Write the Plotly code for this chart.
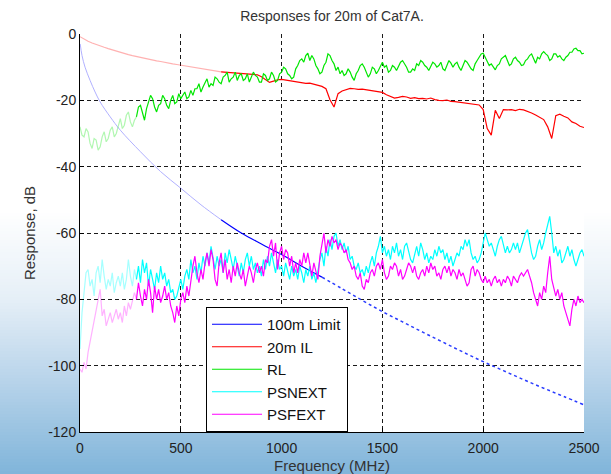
import plotly.graph_objects as go

# frequency grids (MHz)
freq10 = list(range(0, 2501, 10))
freq20 = list(range(0, 2501, 20))

# axis ticks
x_ticks = [0, 500, 1000, 1500, 2000, 2500]
y_ticks = [0, -20, -40, -60, -80, -100, -120]
y_tick_text = ['0', '-20', '-40', '-60', '-80', '-100', '-120']

# 100m limit (smooth curve read at a few points)
limit_freq = [1, 10, 25, 50, 75, 100, 150, 200, 300, 400, 500, 600, 700, 800, 900,
              1000, 1100, 1200, 1300, 1400, 1500, 1600, 1700, 1800, 1900, 2000,
              2100, 2200, 2300, 2400, 2500]
limit_db = [-3.0, -6.5, -10.0, -14.0, -17.5, -20.5, -25.0, -29.0, -35.5, -41.5, -46.5,
            -51.5, -56.0, -60.0, -63.3, -66.5, -70.0, -73.3, -76.8, -80.3, -83.7,
            -86.8, -89.9, -92.9, -95.9, -98.8, -101.5, -104.2, -106.8, -109.3, -111.8]

# 20m insertion loss, every 20 MHz
il_db = [
    -0.8, -1.6, -2.2, -2.7, -3.2, -3.6, -4.0, -4.4, -4.8, -5.2,
    -5.6, -5.9, -6.2, -6.5, -6.8, -7.1, -7.3, -7.6, -7.8, -8.1,
    -8.3, -8.6, -8.8, -9.0, -9.2, -9.4, -9.6, -9.8, -10.0, -10.2,
    -10.4, -10.6, -10.8, -11.0, -11.2, -11.4, -11.5, -11.6, -11.8, -11.9,
    -11.9, -12.0, -12.1, -12.1, -12.3, -12.9, -13.8, -14.6, -14.2, -13.8,
    -13.7, -13.9, -14.2, -14.4, -14.5, -14.6, -14.9, -14.8, -15.1, -15.4,
    -15.8, -16.5, -19.8, -22.0, -18.0, -17.2, -16.8, -16.4, -16.5, -16.7,
    -16.6, -16.8, -17.0, -17.1, -17.3, -17.6, -18.3, -18.9, -19.3, -19.1,
    -18.8, -19.0, -19.4, -19.2, -19.5, -19.4, -19.6, -19.3, -19.8, -20.0,
    -20.1, -19.9, -20.3, -20.4, -20.6, -20.7, -20.9, -21.0, -21.2, -21.4,
    -22.8, -28.5, -30.5, -23.0, -25.5, -22.8, -22.9, -22.8, -23.1, -22.7,
    -22.9, -23.3, -23.8, -24.4, -25.1, -25.8, -28.0, -31.5, -24.6, -24.2,
    -24.8, -25.3, -26.5, -27.0, -27.8, -28.2]

# return loss, every 10 MHz
rl_db = [
    -28.0, -30.5, -31.0, -28.5, -29.5, -33.0, -34.5, -31.5, -32.0, -35.0,
    -34.0, -31.0, -29.5, -32.5, -31.5, -29.0, -28.0, -31.0, -30.0, -27.5,
    -25.5, -28.5, -27.5, -24.5, -23.5, -26.5, -28.0, -26.0, -25.0, -22.0,
    -21.5, -24.0, -26.0, -22.5, -20.5, -18.5, -19.5, -22.0, -23.5, -21.5,
    -21.0, -18.5, -19.5, -21.5, -22.5, -20.0, -18.5, -21.0, -20.5, -18.0,
    -19.5, -18.5, -17.5, -19.5, -19.0, -17.0, -18.5, -16.5, -16.5, -15.0,
    -17.5, -16.0, -14.5, -13.5, -16.0, -15.0, -15.5, -13.0, -13.5, -14.5,
    -15.0, -13.0, -12.5, -11.5, -14.5, -13.5, -13.0, -11.5, -14.0, -12.5,
    -12.0, -14.0, -13.5, -12.0, -14.5, -13.0, -11.5, -12.5, -13.0, -14.5,
    -14.5, -12.0, -12.5, -14.0, -13.5, -11.5, -12.5, -14.5, -14.0, -12.0,
    -11.5, -10.0, -10.5, -12.0, -12.5, -13.5, -13.0, -10.5, -9.5, -8.0,
    -7.5, -8.5, -6.5, -5.8, -8.0, -6.5, -7.5, -9.5, -10.5, -12.0,
    -11.5, -9.5, -8.5, -6.0, -6.5, -8.0, -9.0, -11.0, -10.0, -12.0,
    -11.0, -12.5, -12.0, -10.5, -11.5, -13.0, -14.0, -12.0, -11.0, -9.5,
    -9.0, -10.0, -11.5, -13.0, -12.0, -10.0, -10.5, -12.0, -11.0, -9.5,
    -8.5, -10.0, -9.5, -11.5, -11.0, -9.5, -10.0, -11.0, -9.5, -8.5,
    -8.0, -9.0, -10.0, -11.5, -11.5, -10.5, -11.0, -9.0, -9.5, -8.0,
    -8.5, -9.5, -10.0, -11.0, -9.5, -8.5, -9.0, -10.0, -9.5, -8.5,
    -10.5, -11.0, -9.5, -8.0, -8.8, -10.0, -9.0, -8.5, -10.0, -11.0,
    -9.5, -8.0, -8.5, -9.5, -10.5, -11.0, -9.0, -8.0, -7.0, -6.0,
    -5.8, -7.0, -8.0, -9.5, -9.0, -10.0, -10.8, -9.5, -9.0, -7.5,
    -7.0, -6.5, -8.0, -9.5, -9.0, -7.5, -7.0, -8.0, -8.5, -9.5,
    -9.3, -8.0, -7.5, -6.5, -6.0, -7.5, -8.8, -7.0, -7.5, -6.0,
    -5.3, -6.0, -6.5, -8.0, -7.5, -6.0, -6.0, -7.0, -6.5, -7.5,
    -8.0, -7.0, -6.5, -5.5, -5.5, -4.5, -4.3, -5.0, -5.0, -6.0,
    -5.8]

# power sum NEXT, every 10 MHz
psnext_db = [
    -95, -84, -78, -72, -71, -76, -74, -79, -72, -70,
    -75, -68, -73, -77, -74, -76, -72, -78, -75, -73,
    -76, -72, -77, -74, -68, -73, -76, -71, -74, -70,
    -75, -68, -72, -69, -76, -71, -74, -77, -72, -75,
    -70, -74, -72, -76, -74, -78, -77, -80, -79, -76,
    -74, -77, -73, -71, -74, -68, -72, -70, -74, -69,
    -72, -67, -70, -66, -69, -64, -68, -71, -67, -70,
    -68, -72, -66, -69, -65, -68, -71, -67, -70, -73,
    -69, -72, -68, -66, -70, -67, -71, -69, -72, -70,
    -73, -68, -71, -67, -70, -66, -69, -72, -68, -71,
    -70, -73, -69, -72, -74, -70, -73, -71, -74, -70,
    -72, -75, -71, -73, -70, -74, -72, -75, -71, -68,
    -66, -70, -64, -67, -62, -65, -61, -60, -64, -62,
    -65, -63, -66, -64, -68, -67, -70, -71, -69, -72,
    -71, -73, -70, -72, -69, -67, -70, -66, -64, -61,
    -66, -64, -67, -65, -68, -64, -66, -63, -67, -65,
    -68, -64, -63, -66, -68, -69, -66, -64, -67, -63,
    -65, -68, -66, -69, -67, -68, -65, -67, -64, -66,
    -65, -68, -66, -69, -67, -70, -68, -66, -67, -64,
    -65, -62, -64, -62, -66, -68, -67, -69, -68, -66,
    -63, -60, -62, -64, -63, -65, -67, -64, -62, -61,
    -64, -66, -64, -66, -65, -63, -65, -63, -66, -64,
    -62, -60, -59, -63, -66, -68, -67, -64, -62, -65,
    -63, -60, -57, -55, -60, -66, -64, -67, -65, -69,
    -68, -66, -64, -67, -65, -68, -70, -68, -66, -65,
    -67]

# power sum FEXT, every 10 MHz
psfext_db = [
    -101, -102, -99, -101, -96, -93, -90, -86, -83, -80,
    -77, -85, -83, -88, -86, -84, -87, -85, -83, -86,
    -84, -87, -82, -85, -81, -83, -80, -78, -80, -75,
    -79, -82, -77, -80, -74, -78, -84, -76, -80, -77,
    -81, -79, -76, -80, -78, -82, -84, -87, -82, -85,
    -80, -78, -81, -76, -79, -74, -70, -67, -72, -75,
    -71, -74, -69, -66, -70, -65, -68, -74, -76, -69,
    -66, -72, -68, -74, -71, -75, -70, -73, -69, -72,
    -74, -71, -76, -73, -70, -72, -75, -71, -69, -72,
    -70, -73, -68, -69, -64, -62, -67, -63, -71, -66,
    -64, -68, -65, -66, -70, -67, -72, -69, -72, -68,
    -70, -66, -69, -66, -70, -73, -69, -72, -74, -67,
    -63, -60, -66, -62, -64, -61, -63, -62, -65, -63,
    -64, -66, -65, -68, -69, -71, -70, -73, -74, -72,
    -76, -77, -74, -75, -72, -71, -73, -70, -69, -71,
    -68, -72, -74, -73, -70, -71, -69, -70, -73, -71,
    -74, -73, -71, -69, -70, -72, -70, -73, -74, -72,
    -71, -73, -70, -72, -69, -71, -70, -73, -72, -74,
    -71, -70, -72, -70, -73, -71, -72, -74, -71, -73,
    -72, -74, -76, -75, -71, -70, -73, -71, -72, -74,
    -75, -73, -75, -74, -76, -74, -73, -75, -74, -76,
    -74, -75, -73, -74, -76, -73, -74, -75, -73, -72,
    -73, -72, -71, -73, -75, -78, -80, -82, -78, -80,
    -76, -78, -72, -67, -74, -77, -79, -77, -80, -78,
    -82, -84, -86, -88, -83, -80, -82, -79, -81, -80,
    -81]

fig = go.Figure()


def add_split(x, y, k, color, name, faded_opacity=0.3):
    # first part of the sweep is drawn faded, like the original
    fig.add_trace(go.Scatter(x=x[:k + 1], y=y[:k + 1], mode='lines',
                             line=dict(color=color, width=1.2), opacity=faded_opacity,
                             legendgroup=name, showlegend=False, hoverinfo='skip'))
    fig.add_trace(go.Scatter(x=x[k:], y=y[k:], mode='lines',
                             line=dict(color=color, width=1.2),
                             legendgroup=name, name=name))


# 100m limit: pale, solid, then dotted
i700 = limit_freq.index(700)
i1200 = limit_freq.index(1200)
fig.add_trace(go.Scatter(x=limit_freq[:i700 + 1], y=limit_db[:i700 + 1], mode='lines',
                         line=dict(color='#0000ff', width=1, shape='spline'), opacity=0.3,
                         legendgroup='lim', showlegend=False))
fig.add_trace(go.Scatter(x=limit_freq[i700:i1200 + 1], y=limit_db[i700:i1200 + 1], mode='lines',
                         line=dict(color='#0000ff', width=1.2, shape='spline'),
                         legendgroup='lim', name='100m Limit'))
fig.add_trace(go.Scatter(x=limit_freq[i1200:], y=limit_db[i1200:], mode='lines',
                         line=dict(color='#2a3cff', width=1.5, dash='dot', shape='spline'),
                         legendgroup='lim', showlegend=False))

add_split(freq20, il_db, freq20.index(700), '#ff0000', '20m IL')
add_split(freq10, rl_db, freq10.index(280), '#00e600', 'RL')
add_split(freq10, psnext_db, freq10.index(280), '#00ffff', 'PSNEXT', 0.35)
add_split(freq10, psfext_db, freq10.index(280), '#ff00ff', 'PSFEXT')

# background: white fading to blue toward the bottom of the page
W, H = 611, 474
L, R, T, B = 80, 27, 34, 42
pw, ph = W - L - R, H - T - B
stops = [(210, (255, 255, 255)), (300, (229, 239, 247)), (380, (184, 212, 234)), (474, (128, 180, 218))]


def col_at(py):
    for (y0, c0), (y1, c1) in zip(stops[:-1], stops[1:]):
        if y0 <= py <= y1:
            t = (py - y0) / (y1 - y0)
            return 'rgb(%d,%d,%d)' % tuple(round(a + (b - a) * t) for a, b in zip(c0, c1))
    return 'rgb(255,255,255)'


shapes = []
step = 3
for py in range(210, H, step):
    shapes.append(dict(type='rect', xref='paper', yref='paper', layer='below',
                       x0=-L / pw - 0.05, x1=(W - L) / pw + 0.05,
                       y0=(H - B - (py + step + 0.5)) / ph, y1=(H - B - py) / ph,
                       fillcolor=col_at(py + step / 2), line=dict(width=0)))
shapes.append(dict(type='rect', xref='paper', yref='paper', layer='below',
                   x0=0, x1=1, y0=0, y1=1, fillcolor='white', line=dict(width=0)))

axis_style = dict(showgrid=True, gridcolor='#1a1a1a', gridwidth=1, griddash='4px,3px',
                  showline=True, linecolor='black', linewidth=1, zeroline=False,
                  ticks='inside', ticklen=4, tickcolor='black', automargin=False,
                  tickfont=dict(family='Arial', size=14, color='#222'))

fig.update_layout(
    width=W, height=H,
    margin=dict(l=L, r=R, t=T, b=B),
    paper_bgcolor='white', plot_bgcolor='white',
    shapes=shapes,
    title=dict(text='Responses for 20m of Cat7A.', x=0.5, xref='paper', xanchor='center',
               y=1 - 16 / H, yref='container', yanchor='middle',
               font=dict(family='Arial', size=14, color='#333')),
    xaxis=dict(range=[0, 2500], tickvals=x_ticks,
               ticklabelstandoff=3,
               title=dict(text='Frequency (MHz)', standoff=5,
                          font=dict(family='Arial', size=15, color='#333')),
               **axis_style),
    yaxis=dict(range=[-120, 0], tickvals=y_ticks, ticktext=y_tick_text,
               title=dict(text='Response, dB', standoff=8,
                          font=dict(family='Arial', size=15, color='#333')),
               **axis_style),
    legend=dict(x=(206 - L) / pw, y=(H - B - 307) / ph, xanchor='left', yanchor='top',
                bgcolor='white', bordercolor='black', borderwidth=1,
                font=dict(family='Arial', size=15, color='#111'),
                itemwidth=50, tracegroupgap=0),
    showlegend=True,
)

# the page body has a default 8px margin; drop it so the figure fills the window
fig.write_html("out.html", config={'displayModeBar': False},
               post_script="document.body.style.margin='0';")
